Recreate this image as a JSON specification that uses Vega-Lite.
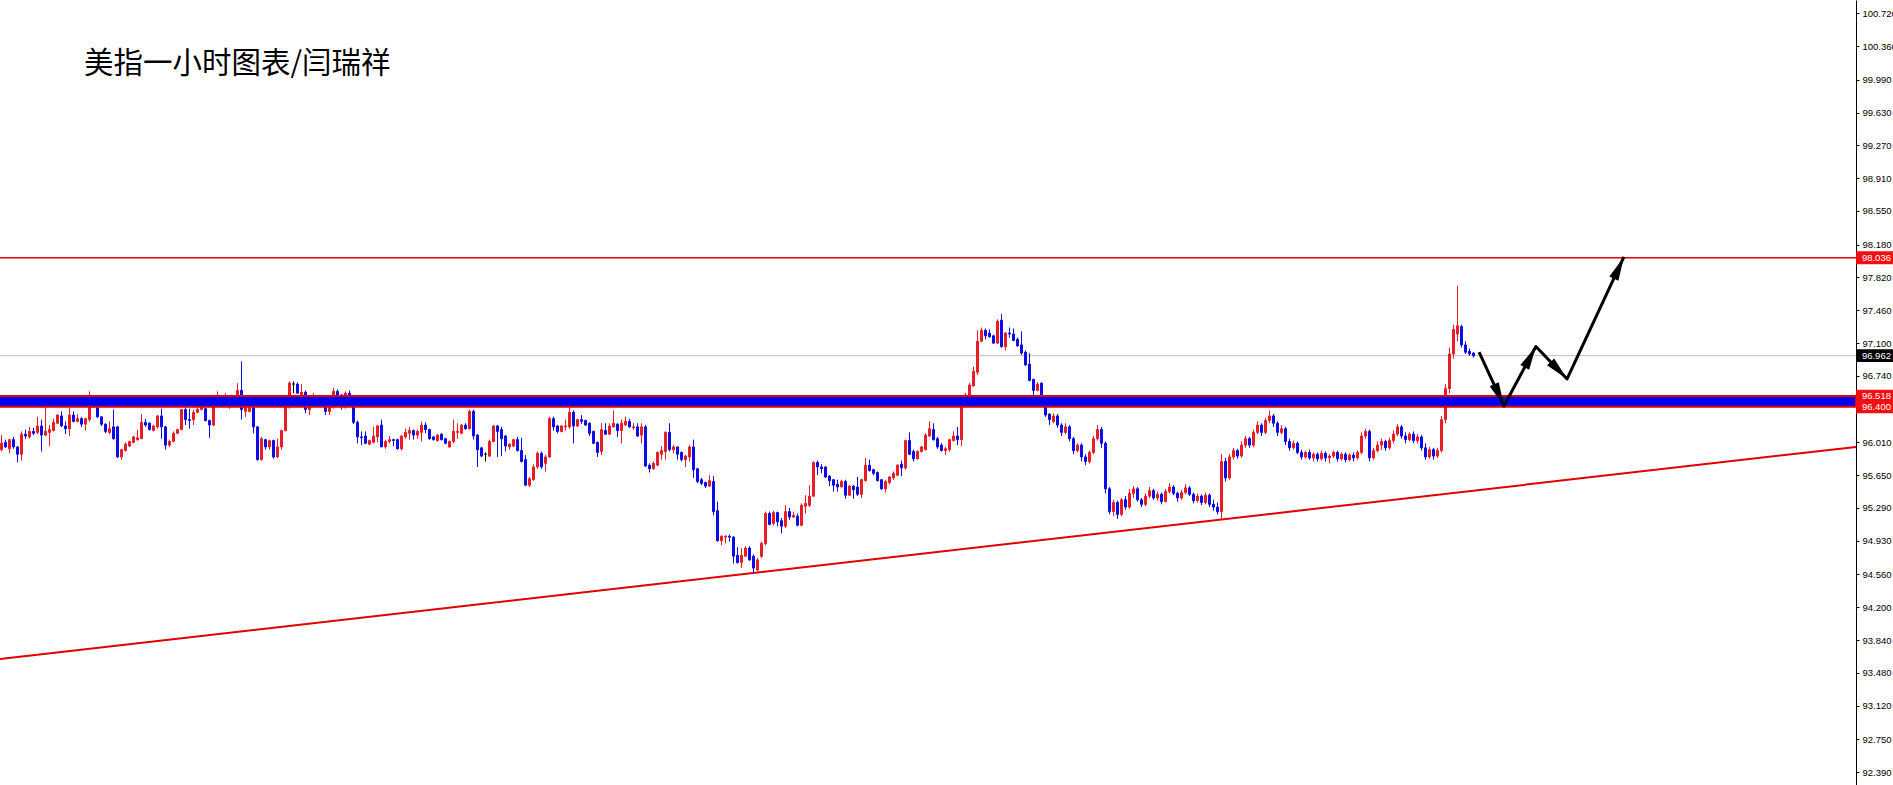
{
"$schema": "https://vega.github.io/schema/vega-lite/v6.json",
"width": 1856, "height": 785,
"autosize": {"type": "none"},
"padding": {"left": 0, "top": 0, "right": 37, "bottom": 0},
"background": "white",
"config": {"view": {"stroke": null}, "scale": {"continuousPadding": 0}, "axisY": {"labelOverlap": false, "labelFlush": false, "labelBound": false, "grid": false, "title": null, "domainColor": "#000000", "domainWidth": 1, "tickColor": "#000000", "tickSize": 3, "labelPadding": 3, "labelFont": "Liberation Sans", "labelFontSize": 9.5, "labelColor": "#000000"}},
"title": {"text": "美指一小时图表/闫瑞祥", "anchor": "start", "frame": "group", "orient": "top", "offset": -102, "dx": 84, "baseline": "alphabetic", "font": "Noto Sans CJK SC", "fontSize": 29.5, "fontWeight": "normal", "color": "#000000"},
"datasets": {
"candles": [
{"i":0,"o":95.93,"h":96.09,"l":95.91,"c":96.00},
{"i":1,"o":96.01,"h":96.04,"l":95.95,"c":95.96},
{"i":2,"o":95.94,"h":96.05,"l":95.89,"c":96.04},
{"i":3,"o":96.04,"h":96.07,"l":95.94,"c":95.96},
{"i":4,"o":95.96,"h":95.97,"l":95.79,"c":95.88},
{"i":5,"o":95.88,"h":96.13,"l":95.81,"c":96.10},
{"i":6,"o":96.10,"h":96.15,"l":96.05,"c":96.08},
{"i":7,"o":96.07,"h":96.18,"l":96.05,"c":96.13},
{"i":8,"o":96.13,"h":96.17,"l":96.09,"c":96.11},
{"i":9,"o":96.12,"h":96.29,"l":96.10,"c":96.19},
{"i":10,"o":96.19,"h":96.26,"l":95.91,"c":96.09},
{"i":11,"o":96.09,"h":96.44,"l":96.08,"c":96.13},
{"i":12,"o":96.12,"h":96.20,"l":95.97,"c":96.15},
{"i":13,"o":96.14,"h":96.27,"l":96.13,"c":96.23},
{"i":14,"o":96.22,"h":96.32,"l":96.21,"c":96.31},
{"i":15,"o":96.30,"h":96.35,"l":96.18,"c":96.19},
{"i":16,"o":96.19,"h":96.24,"l":96.10,"c":96.16},
{"i":17,"o":96.16,"h":96.39,"l":96.08,"c":96.31},
{"i":18,"o":96.31,"h":96.35,"l":96.23,"c":96.24},
{"i":19,"o":96.24,"h":96.32,"l":96.23,"c":96.27},
{"i":20,"o":96.27,"h":96.29,"l":96.18,"c":96.21},
{"i":21,"o":96.21,"h":96.28,"l":96.14,"c":96.27},
{"i":22,"o":96.26,"h":96.57,"l":96.24,"c":96.51},
{"i":23,"o":96.51,"h":96.53,"l":96.39,"c":96.40},
{"i":24,"o":96.39,"h":96.40,"l":96.28,"c":96.29},
{"i":25,"o":96.29,"h":96.30,"l":96.19,"c":96.21},
{"i":26,"o":96.21,"h":96.22,"l":96.11,"c":96.13},
{"i":27,"o":96.12,"h":96.24,"l":96.10,"c":96.16},
{"i":28,"o":96.18,"h":96.37,"l":96.04,"c":96.05},
{"i":29,"o":96.18,"h":96.19,"l":95.84,"c":95.85},
{"i":30,"o":95.85,"h":95.94,"l":95.82,"c":95.93},
{"i":31,"o":95.92,"h":96.01,"l":95.91,"c":95.99},
{"i":32,"o":95.97,"h":96.03,"l":95.96,"c":96.02},
{"i":33,"o":96.01,"h":96.08,"l":96.00,"c":96.07},
{"i":34,"o":96.04,"h":96.15,"l":96.03,"c":96.06},
{"i":35,"o":96.05,"h":96.32,"l":96.05,"c":96.23},
{"i":36,"o":96.23,"h":96.27,"l":96.18,"c":96.20},
{"i":37,"o":96.22,"h":96.23,"l":96.14,"c":96.15},
{"i":38,"o":96.14,"h":96.20,"l":96.13,"c":96.19},
{"i":39,"o":96.18,"h":96.31,"l":96.16,"c":96.30},
{"i":40,"o":96.30,"h":96.38,"l":96.05,"c":96.18},
{"i":41,"o":96.18,"h":96.19,"l":95.93,"c":95.98},
{"i":42,"o":95.98,"h":96.04,"l":95.96,"c":96.02},
{"i":43,"o":96.02,"h":96.13,"l":96.01,"c":96.11},
{"i":44,"o":96.11,"h":96.16,"l":96.10,"c":96.15},
{"i":45,"o":96.15,"h":96.37,"l":96.15,"c":96.37},
{"i":46,"o":96.37,"h":96.40,"l":96.20,"c":96.26},
{"i":47,"o":96.26,"h":96.38,"l":96.16,"c":96.25},
{"i":48,"o":96.26,"h":96.37,"l":96.20,"c":96.34},
{"i":49,"o":96.34,"h":96.40,"l":96.33,"c":96.37},
{"i":50,"o":96.37,"h":96.44,"l":96.36,"c":96.40},
{"i":51,"o":96.38,"h":96.39,"l":96.24,"c":96.25},
{"i":52,"o":96.25,"h":96.26,"l":96.06,"c":96.20},
{"i":53,"o":96.20,"h":96.47,"l":96.19,"c":96.45},
{"i":54,"o":96.45,"h":96.57,"l":96.44,"c":96.51},
{"i":55,"o":96.52,"h":96.53,"l":96.45,"c":96.48},
{"i":56,"o":96.48,"h":96.55,"l":96.44,"c":96.50},
{"i":57,"o":96.50,"h":96.51,"l":96.38,"c":96.42},
{"i":58,"o":96.42,"h":96.50,"l":96.40,"c":96.46},
{"i":59,"o":96.44,"h":96.66,"l":96.42,"c":96.58},
{"i":60,"o":96.58,"h":96.90,"l":96.26,"c":96.37},
{"i":61,"o":96.35,"h":96.42,"l":96.29,"c":96.40},
{"i":62,"o":96.35,"h":96.40,"l":96.34,"c":96.39},
{"i":63,"o":96.39,"h":96.40,"l":96.11,"c":96.18},
{"i":64,"o":96.18,"h":96.19,"l":95.81,"c":95.82},
{"i":65,"o":95.82,"h":96.07,"l":95.81,"c":96.05},
{"i":66,"o":96.04,"h":96.05,"l":95.93,"c":95.96},
{"i":67,"o":95.96,"h":96.04,"l":95.93,"c":96.03},
{"i":68,"o":96.03,"h":96.04,"l":95.83,"c":95.85},
{"i":69,"o":95.85,"h":96.05,"l":95.84,"c":95.96},
{"i":70,"o":95.96,"h":96.15,"l":95.93,"c":96.14},
{"i":71,"o":96.14,"h":96.42,"l":96.13,"c":96.40},
{"i":72,"o":96.40,"h":96.68,"l":96.38,"c":96.66},
{"i":73,"o":96.65,"h":96.68,"l":96.55,"c":96.65},
{"i":74,"o":96.65,"h":96.67,"l":96.55,"c":96.55},
{"i":75,"o":96.51,"h":96.65,"l":96.48,"c":96.56},
{"i":76,"o":96.56,"h":96.58,"l":96.33,"c":96.37},
{"i":77,"o":96.37,"h":96.48,"l":96.31,"c":96.46},
{"i":78,"o":96.46,"h":96.55,"l":96.42,"c":96.49},
{"i":79,"o":96.49,"h":96.50,"l":96.44,"c":96.46},
{"i":80,"o":96.44,"h":96.51,"l":96.42,"c":96.49},
{"i":81,"o":96.40,"h":96.44,"l":96.31,"c":96.35},
{"i":82,"o":96.35,"h":96.46,"l":96.31,"c":96.42},
{"i":83,"o":96.42,"h":96.61,"l":96.38,"c":96.57},
{"i":84,"o":96.57,"h":96.59,"l":96.51,"c":96.53},
{"i":85,"o":96.53,"h":96.54,"l":96.37,"c":96.44},
{"i":86,"o":96.40,"h":96.57,"l":96.38,"c":96.55},
{"i":87,"o":96.55,"h":96.58,"l":96.50,"c":96.52},
{"i":88,"o":96.47,"h":96.50,"l":96.21,"c":96.23},
{"i":89,"o":96.23,"h":96.25,"l":96.00,"c":96.07},
{"i":90,"o":96.07,"h":96.13,"l":95.98,"c":96.06},
{"i":91,"o":96.08,"h":96.13,"l":95.99,"c":96.00},
{"i":92,"o":95.99,"h":96.04,"l":95.98,"c":96.03},
{"i":93,"o":96.01,"h":96.18,"l":96.00,"c":96.08},
{"i":94,"o":96.07,"h":96.20,"l":96.01,"c":96.19},
{"i":95,"o":96.20,"h":96.26,"l":95.96,"c":95.96},
{"i":96,"o":95.96,"h":96.04,"l":95.94,"c":96.02},
{"i":97,"o":96.02,"h":96.08,"l":96.00,"c":96.04},
{"i":98,"o":96.04,"h":96.05,"l":95.97,"c":96.03},
{"i":99,"o":96.04,"h":96.05,"l":95.93,"c":95.94},
{"i":100,"o":95.94,"h":96.09,"l":95.92,"c":96.08},
{"i":101,"o":96.07,"h":96.16,"l":96.05,"c":96.12},
{"i":102,"o":96.11,"h":96.18,"l":96.04,"c":96.14},
{"i":103,"o":96.14,"h":96.15,"l":96.04,"c":96.09},
{"i":104,"o":96.09,"h":96.15,"l":96.05,"c":96.13},
{"i":105,"o":96.12,"h":96.24,"l":96.02,"c":96.20},
{"i":106,"o":96.20,"h":96.23,"l":96.11,"c":96.15},
{"i":107,"o":96.15,"h":96.16,"l":96.04,"c":96.05},
{"i":108,"o":96.07,"h":96.08,"l":96.03,"c":96.04},
{"i":109,"o":96.03,"h":96.10,"l":96.02,"c":96.09},
{"i":110,"o":96.10,"h":96.11,"l":96.03,"c":96.04},
{"i":111,"o":96.05,"h":96.06,"l":95.99,"c":96.00},
{"i":112,"o":95.96,"h":96.03,"l":95.95,"c":96.02},
{"i":113,"o":96.02,"h":96.26,"l":96.00,"c":96.13},
{"i":114,"o":96.12,"h":96.22,"l":96.05,"c":96.13},
{"i":115,"o":96.11,"h":96.21,"l":96.10,"c":96.20},
{"i":116,"o":96.20,"h":96.22,"l":96.15,"c":96.16},
{"i":117,"o":96.16,"h":96.37,"l":96.15,"c":96.35},
{"i":118,"o":96.35,"h":96.37,"l":96.04,"c":96.08},
{"i":119,"o":96.09,"h":96.10,"l":95.74,"c":95.93},
{"i":120,"o":95.95,"h":95.96,"l":95.85,"c":95.86},
{"i":121,"o":95.88,"h":95.90,"l":95.80,"c":95.88},
{"i":122,"o":95.86,"h":96.04,"l":95.85,"c":96.02},
{"i":123,"o":96.02,"h":96.20,"l":96.01,"c":96.19},
{"i":124,"o":96.19,"h":96.20,"l":95.85,"c":96.13},
{"i":125,"o":96.15,"h":96.18,"l":95.86,"c":96.05},
{"i":126,"o":96.08,"h":96.09,"l":95.91,"c":95.97},
{"i":127,"o":95.96,"h":96.00,"l":95.93,"c":95.99},
{"i":128,"o":95.97,"h":96.05,"l":95.96,"c":96.04},
{"i":129,"o":96.04,"h":96.07,"l":95.91,"c":95.92},
{"i":130,"o":95.92,"h":96.06,"l":95.79,"c":95.80},
{"i":131,"o":95.82,"h":95.87,"l":95.53,"c":95.54},
{"i":132,"o":95.54,"h":95.63,"l":95.52,"c":95.61},
{"i":133,"o":95.60,"h":95.77,"l":95.59,"c":95.74},
{"i":134,"o":95.74,"h":95.91,"l":95.72,"c":95.89},
{"i":135,"o":95.89,"h":95.91,"l":95.72,"c":95.74},
{"i":136,"o":95.78,"h":95.87,"l":95.69,"c":95.85},
{"i":137,"o":95.85,"h":96.29,"l":95.84,"c":96.27},
{"i":138,"o":96.27,"h":96.29,"l":96.14,"c":96.18},
{"i":139,"o":96.19,"h":96.20,"l":96.11,"c":96.13},
{"i":140,"o":96.13,"h":96.20,"l":96.12,"c":96.19},
{"i":141,"o":96.18,"h":96.26,"l":96.14,"c":96.19},
{"i":142,"o":96.18,"h":96.46,"l":96.16,"c":96.34},
{"i":143,"o":96.34,"h":96.36,"l":96.00,"c":96.19},
{"i":144,"o":96.19,"h":96.27,"l":96.18,"c":96.26},
{"i":145,"o":96.26,"h":96.31,"l":96.21,"c":96.24},
{"i":146,"o":96.25,"h":96.26,"l":96.19,"c":96.20},
{"i":147,"o":96.22,"h":96.23,"l":96.08,"c":96.11},
{"i":148,"o":96.13,"h":96.14,"l":95.99,"c":96.00},
{"i":149,"o":96.01,"h":96.02,"l":95.85,"c":95.90},
{"i":150,"o":95.91,"h":96.22,"l":95.87,"c":96.15},
{"i":151,"o":96.14,"h":96.22,"l":96.09,"c":96.10},
{"i":152,"o":96.10,"h":96.22,"l":96.09,"c":96.19},
{"i":153,"o":96.18,"h":96.36,"l":96.17,"c":96.22},
{"i":154,"o":96.21,"h":96.22,"l":96.07,"c":96.14},
{"i":155,"o":96.14,"h":96.26,"l":96.00,"c":96.22},
{"i":156,"o":96.20,"h":96.29,"l":96.19,"c":96.24},
{"i":157,"o":96.24,"h":96.27,"l":96.17,"c":96.18},
{"i":158,"o":96.17,"h":96.22,"l":96.15,"c":96.18},
{"i":159,"o":96.18,"h":96.22,"l":96.07,"c":96.08},
{"i":160,"o":96.09,"h":96.22,"l":96.00,"c":96.18},
{"i":161,"o":96.18,"h":96.20,"l":95.74,"c":95.75},
{"i":162,"o":95.76,"h":95.78,"l":95.68,"c":95.72},
{"i":163,"o":95.72,"h":95.80,"l":95.71,"c":95.78},
{"i":164,"o":95.76,"h":95.91,"l":95.75,"c":95.90},
{"i":165,"o":95.88,"h":95.97,"l":95.82,"c":95.92},
{"i":166,"o":95.91,"h":96.13,"l":95.82,"c":96.12},
{"i":167,"o":96.12,"h":96.22,"l":95.91,"c":95.93},
{"i":168,"o":95.93,"h":95.98,"l":95.89,"c":95.96},
{"i":169,"o":95.96,"h":95.96,"l":95.82,"c":95.88},
{"i":170,"o":95.90,"h":95.91,"l":95.80,"c":95.82},
{"i":171,"o":95.82,"h":95.87,"l":95.74,"c":95.86},
{"i":172,"o":95.85,"h":95.98,"l":95.80,"c":95.96},
{"i":173,"o":95.96,"h":96.04,"l":95.62,"c":95.71},
{"i":174,"o":95.72,"h":95.73,"l":95.56,"c":95.58},
{"i":175,"o":95.60,"h":95.62,"l":95.54,"c":95.56},
{"i":176,"o":95.57,"h":95.58,"l":95.51,"c":95.53},
{"i":177,"o":95.53,"h":95.65,"l":95.52,"c":95.59},
{"i":178,"o":95.58,"h":95.64,"l":95.21,"c":95.25},
{"i":179,"o":95.26,"h":95.36,"l":94.92,"c":94.93},
{"i":180,"o":94.93,"h":94.99,"l":94.88,"c":94.98},
{"i":181,"o":94.97,"h":94.99,"l":94.90,"c":94.98},
{"i":182,"o":94.98,"h":95.00,"l":94.92,"c":94.97},
{"i":183,"o":94.97,"h":94.98,"l":94.68,"c":94.76},
{"i":184,"o":94.77,"h":94.86,"l":94.68,"c":94.69},
{"i":185,"o":94.69,"h":94.85,"l":94.63,"c":94.77},
{"i":186,"o":94.76,"h":94.87,"l":94.76,"c":94.85},
{"i":187,"o":94.85,"h":94.87,"l":94.71,"c":94.72},
{"i":188,"o":94.76,"h":94.78,"l":94.57,"c":94.63},
{"i":189,"o":94.61,"h":94.74,"l":94.59,"c":94.72},
{"i":190,"o":94.76,"h":94.92,"l":94.74,"c":94.90},
{"i":191,"o":94.90,"h":95.25,"l":94.88,"c":95.23},
{"i":192,"o":95.23,"h":95.25,"l":95.10,"c":95.11},
{"i":193,"o":95.12,"h":95.26,"l":95.10,"c":95.24},
{"i":194,"o":95.24,"h":95.25,"l":95.09,"c":95.14},
{"i":195,"o":95.15,"h":95.18,"l":95.01,"c":95.09},
{"i":196,"o":95.09,"h":95.32,"l":95.07,"c":95.25},
{"i":197,"o":95.25,"h":95.29,"l":95.16,"c":95.19},
{"i":198,"o":95.19,"h":95.25,"l":95.18,"c":95.21},
{"i":199,"o":95.20,"h":95.23,"l":95.09,"c":95.10},
{"i":200,"o":95.10,"h":95.34,"l":95.09,"c":95.32},
{"i":201,"o":95.31,"h":95.43,"l":95.23,"c":95.34},
{"i":202,"o":95.32,"h":95.54,"l":95.30,"c":95.42},
{"i":203,"o":95.42,"h":95.80,"l":95.41,"c":95.79},
{"i":204,"o":95.79,"h":95.81,"l":95.65,"c":95.74},
{"i":205,"o":95.74,"h":95.77,"l":95.67,"c":95.72},
{"i":206,"o":95.74,"h":95.75,"l":95.62,"c":95.63},
{"i":207,"o":95.64,"h":95.65,"l":95.53,"c":95.59},
{"i":208,"o":95.60,"h":95.61,"l":95.47,"c":95.54},
{"i":209,"o":95.55,"h":95.60,"l":95.47,"c":95.52},
{"i":210,"o":95.52,"h":95.60,"l":95.52,"c":95.58},
{"i":211,"o":95.58,"h":95.60,"l":95.39,"c":95.43},
{"i":212,"o":95.43,"h":95.54,"l":95.42,"c":95.53},
{"i":213,"o":95.53,"h":95.54,"l":95.39,"c":95.49},
{"i":214,"o":95.52,"h":95.63,"l":95.42,"c":95.44},
{"i":215,"o":95.44,"h":95.61,"l":95.40,"c":95.60},
{"i":216,"o":95.59,"h":95.84,"l":95.58,"c":95.76},
{"i":217,"o":95.76,"h":95.82,"l":95.69,"c":95.70},
{"i":218,"o":95.71,"h":95.72,"l":95.65,"c":95.67},
{"i":219,"o":95.68,"h":95.69,"l":95.58,"c":95.59},
{"i":220,"o":95.60,"h":95.61,"l":95.49,"c":95.50},
{"i":221,"o":95.50,"h":95.60,"l":95.46,"c":95.58},
{"i":222,"o":95.57,"h":95.64,"l":95.55,"c":95.63},
{"i":223,"o":95.62,"h":95.69,"l":95.60,"c":95.67},
{"i":224,"o":95.65,"h":95.77,"l":95.64,"c":95.76},
{"i":225,"o":95.77,"h":95.81,"l":95.64,"c":95.73},
{"i":226,"o":95.73,"h":96.04,"l":95.71,"c":96.03},
{"i":227,"o":96.03,"h":96.12,"l":95.87,"c":95.88},
{"i":228,"o":95.91,"h":95.93,"l":95.80,"c":95.83},
{"i":229,"o":95.83,"h":95.92,"l":95.82,"c":95.91},
{"i":230,"o":95.91,"h":95.97,"l":95.90,"c":95.96},
{"i":231,"o":95.93,"h":96.11,"l":95.92,"c":96.09},
{"i":232,"o":96.08,"h":96.24,"l":96.07,"c":96.16},
{"i":233,"o":96.15,"h":96.22,"l":96.03,"c":96.04},
{"i":234,"o":96.05,"h":96.07,"l":95.94,"c":95.96},
{"i":235,"o":95.98,"h":96.00,"l":95.91,"c":95.92},
{"i":236,"o":95.92,"h":95.96,"l":95.87,"c":95.94},
{"i":237,"o":95.93,"h":96.05,"l":95.91,"c":96.04},
{"i":238,"o":96.03,"h":96.13,"l":96.02,"c":96.08},
{"i":239,"o":96.08,"h":96.18,"l":95.98,"c":96.04},
{"i":240,"o":96.04,"h":96.51,"l":95.97,"c":96.46},
{"i":241,"o":96.44,"h":96.55,"l":96.43,"c":96.53},
{"i":242,"o":96.52,"h":96.66,"l":96.51,"c":96.64},
{"i":243,"o":96.63,"h":96.84,"l":96.62,"c":96.79},
{"i":244,"o":96.78,"h":97.24,"l":96.75,"c":97.12},
{"i":245,"o":97.12,"h":97.27,"l":97.11,"c":97.24},
{"i":246,"o":97.24,"h":97.26,"l":97.14,"c":97.18},
{"i":247,"o":97.21,"h":97.25,"l":97.16,"c":97.17},
{"i":248,"o":97.18,"h":97.19,"l":97.09,"c":97.10},
{"i":249,"o":97.10,"h":97.36,"l":97.09,"c":97.34},
{"i":250,"o":97.35,"h":97.42,"l":97.05,"c":97.06},
{"i":251,"o":97.06,"h":97.22,"l":97.02,"c":97.21},
{"i":252,"o":97.21,"h":97.27,"l":97.16,"c":97.20},
{"i":253,"o":97.20,"h":97.26,"l":97.12,"c":97.13},
{"i":254,"o":97.14,"h":97.16,"l":97.06,"c":97.07},
{"i":255,"o":97.08,"h":97.23,"l":96.97,"c":96.99},
{"i":256,"o":97.00,"h":97.02,"l":96.85,"c":96.86},
{"i":257,"o":96.87,"h":96.99,"l":96.68,"c":96.69},
{"i":258,"o":96.70,"h":96.71,"l":96.53,"c":96.58},
{"i":259,"o":96.58,"h":96.67,"l":96.57,"c":96.65},
{"i":260,"o":96.66,"h":96.67,"l":96.51,"c":96.53},
{"i":261,"o":96.50,"h":96.53,"l":96.29,"c":96.31},
{"i":262,"o":96.32,"h":96.33,"l":96.20,"c":96.26},
{"i":263,"o":96.24,"h":96.33,"l":96.22,"c":96.30},
{"i":264,"o":96.30,"h":96.32,"l":96.17,"c":96.20},
{"i":265,"o":96.20,"h":96.22,"l":96.08,"c":96.12},
{"i":266,"o":96.12,"h":96.22,"l":96.10,"c":96.18},
{"i":267,"o":96.18,"h":96.20,"l":96.02,"c":96.05},
{"i":268,"o":96.05,"h":96.07,"l":95.88,"c":95.92},
{"i":269,"o":95.92,"h":96.00,"l":95.90,"c":95.98},
{"i":270,"o":95.98,"h":96.00,"l":95.80,"c":95.85},
{"i":271,"o":95.85,"h":95.88,"l":95.76,"c":95.80},
{"i":272,"o":95.80,"h":95.92,"l":95.78,"c":95.90},
{"i":273,"o":95.90,"h":96.08,"l":95.88,"c":96.05},
{"i":274,"o":96.05,"h":96.20,"l":96.03,"c":96.15},
{"i":275,"o":96.15,"h":96.18,"l":95.95,"c":96.00},
{"i":276,"o":96.00,"h":96.02,"l":95.45,"c":95.50},
{"i":277,"o":95.50,"h":95.52,"l":95.22,"c":95.25},
{"i":278,"o":95.25,"h":95.38,"l":95.20,"c":95.35},
{"i":279,"o":95.35,"h":95.37,"l":95.17,"c":95.22},
{"i":280,"o":95.22,"h":95.40,"l":95.20,"c":95.38},
{"i":281,"o":95.38,"h":95.42,"l":95.27,"c":95.30},
{"i":282,"o":95.30,"h":95.50,"l":95.28,"c":95.45},
{"i":283,"o":95.45,"h":95.53,"l":95.40,"c":95.50},
{"i":284,"o":95.50,"h":95.52,"l":95.36,"c":95.38},
{"i":285,"o":95.38,"h":95.40,"l":95.30,"c":95.33},
{"i":286,"o":95.33,"h":95.45,"l":95.31,"c":95.42},
{"i":287,"o":95.42,"h":95.52,"l":95.40,"c":95.48},
{"i":288,"o":95.48,"h":95.50,"l":95.38,"c":95.40},
{"i":289,"o":95.40,"h":95.47,"l":95.37,"c":95.44},
{"i":290,"o":95.44,"h":95.46,"l":95.33,"c":95.36},
{"i":291,"o":95.36,"h":95.50,"l":95.35,"c":95.47},
{"i":292,"o":95.47,"h":95.56,"l":95.45,"c":95.52},
{"i":293,"o":95.52,"h":95.54,"l":95.43,"c":95.45},
{"i":294,"o":95.45,"h":95.47,"l":95.36,"c":95.40},
{"i":295,"o":95.40,"h":95.49,"l":95.38,"c":95.46},
{"i":296,"o":95.46,"h":95.55,"l":95.44,"c":95.51},
{"i":297,"o":95.51,"h":95.53,"l":95.42,"c":95.44},
{"i":298,"o":95.44,"h":95.46,"l":95.34,"c":95.37},
{"i":299,"o":95.37,"h":95.45,"l":95.35,"c":95.42},
{"i":300,"o":95.42,"h":95.44,"l":95.32,"c":95.35},
{"i":301,"o":95.35,"h":95.46,"l":95.33,"c":95.43},
{"i":302,"o":95.43,"h":95.45,"l":95.30,"c":95.33},
{"i":303,"o":95.33,"h":95.38,"l":95.26,"c":95.30},
{"i":304,"o":95.30,"h":95.35,"l":95.22,"c":95.25},
{"i":305,"o":95.25,"h":95.88,"l":95.17,"c":95.80},
{"i":306,"o":95.80,"h":95.84,"l":95.58,"c":95.62},
{"i":307,"o":95.62,"h":95.88,"l":95.60,"c":95.85},
{"i":308,"o":95.85,"h":95.95,"l":95.82,"c":95.92},
{"i":309,"o":95.92,"h":95.94,"l":95.83,"c":95.86},
{"i":310,"o":95.86,"h":96.02,"l":95.84,"c":95.98},
{"i":311,"o":95.98,"h":96.08,"l":95.95,"c":96.05},
{"i":312,"o":96.05,"h":96.07,"l":95.95,"c":95.98},
{"i":313,"o":95.98,"h":96.15,"l":95.96,"c":96.12},
{"i":314,"o":96.12,"h":96.24,"l":96.10,"c":96.20},
{"i":315,"o":96.20,"h":96.22,"l":96.08,"c":96.12},
{"i":316,"o":96.12,"h":96.28,"l":96.10,"c":96.25},
{"i":317,"o":96.25,"h":96.36,"l":96.22,"c":96.30},
{"i":318,"o":96.30,"h":96.32,"l":96.18,"c":96.22},
{"i":319,"o":96.22,"h":96.24,"l":96.08,"c":96.12},
{"i":320,"o":96.12,"h":96.20,"l":96.10,"c":96.16},
{"i":321,"o":96.16,"h":96.18,"l":95.98,"c":96.02},
{"i":322,"o":96.02,"h":96.05,"l":95.92,"c":95.95},
{"i":323,"o":95.95,"h":96.03,"l":95.93,"c":96.00},
{"i":324,"o":96.00,"h":96.02,"l":95.88,"c":95.90},
{"i":325,"o":95.90,"h":95.93,"l":95.82,"c":95.85},
{"i":326,"o":95.85,"h":95.92,"l":95.83,"c":95.90},
{"i":327,"o":95.90,"h":95.93,"l":95.82,"c":95.84},
{"i":328,"o":95.84,"h":95.90,"l":95.80,"c":95.88},
{"i":329,"o":95.88,"h":95.90,"l":95.80,"c":95.83},
{"i":330,"o":95.83,"h":95.92,"l":95.81,"c":95.89},
{"i":331,"o":95.89,"h":95.91,"l":95.80,"c":95.84},
{"i":332,"o":95.84,"h":95.88,"l":95.78,"c":95.86},
{"i":333,"o":95.86,"h":95.92,"l":95.84,"c":95.90},
{"i":334,"o":95.90,"h":95.92,"l":95.80,"c":95.83},
{"i":335,"o":95.83,"h":95.90,"l":95.81,"c":95.88},
{"i":336,"o":95.88,"h":95.90,"l":95.79,"c":95.82},
{"i":337,"o":95.82,"h":95.89,"l":95.80,"c":95.87},
{"i":338,"o":95.87,"h":95.90,"l":95.80,"c":95.84},
{"i":339,"o":95.84,"h":95.92,"l":95.82,"c":95.90},
{"i":340,"o":95.90,"h":96.12,"l":95.88,"c":96.08},
{"i":341,"o":96.08,"h":96.16,"l":96.05,"c":96.13},
{"i":342,"o":96.13,"h":96.15,"l":95.80,"c":95.84},
{"i":343,"o":95.84,"h":95.95,"l":95.82,"c":95.92},
{"i":344,"o":95.92,"h":96.02,"l":95.90,"c":95.98},
{"i":345,"o":95.98,"h":96.05,"l":95.93,"c":96.02},
{"i":346,"o":96.02,"h":96.04,"l":95.92,"c":95.95},
{"i":347,"o":95.95,"h":96.06,"l":95.93,"c":96.03},
{"i":348,"o":96.03,"h":96.14,"l":96.00,"c":96.10},
{"i":349,"o":96.10,"h":96.21,"l":96.08,"c":96.18},
{"i":350,"o":96.18,"h":96.20,"l":96.05,"c":96.08},
{"i":351,"o":96.08,"h":96.12,"l":96.00,"c":96.04},
{"i":352,"o":96.04,"h":96.12,"l":96.02,"c":96.10},
{"i":353,"o":96.10,"h":96.13,"l":96.00,"c":96.03},
{"i":354,"o":96.03,"h":96.10,"l":96.00,"c":96.07},
{"i":355,"o":96.07,"h":96.09,"l":95.92,"c":95.95},
{"i":356,"o":95.95,"h":96.00,"l":95.82,"c":95.85},
{"i":357,"o":95.85,"h":95.96,"l":95.83,"c":95.93},
{"i":358,"o":95.93,"h":95.95,"l":95.82,"c":95.86},
{"i":359,"o":95.86,"h":95.95,"l":95.84,"c":95.92},
{"i":360,"o":95.92,"h":96.30,"l":95.90,"c":96.26},
{"i":361,"o":96.26,"h":96.65,"l":96.22,"c":96.60},
{"i":362,"o":96.60,"h":97.05,"l":96.55,"c":96.98},
{"i":363,"o":96.98,"h":97.30,"l":96.93,"c":97.25},
{"i":364,"o":97.20,"h":97.73,"l":97.12,"c":97.29},
{"i":365,"o":97.28,"h":97.30,"l":97.05,"c":97.08},
{"i":366,"o":97.08,"h":97.12,"l":96.98,"c":97.00},
{"i":367,"o":97.01,"h":97.04,"l":96.96,"c":96.98},
{"i":368,"o":96.99,"h":97.00,"l":96.94,"c":96.96}
],
"trend": [{"i": -0.375, "p": 93.632}, {"i": 463.625, "p": 95.960}],
"arrow": [{"i": 369.4, "p": 97.00}, {"i": 375.6, "p": 96.41}, {"i": 383.6, "p": 97.063}, {"i": 391.4, "p": 96.706}, {"i": 405.6, "p": 98.045}],
"heads": [{"k": 1, "i": 375.6, "p": 96.41}, {"k": 2, "i": 383.6, "p": 97.063}, {"k": 3, "i": 391.4, "p": 96.706}, {"k": 4, "i": 405.6, "p": 98.045}],
"tags": [{"p": 98.036}, {"p": 96.962}, {"p": 96.518}, {"p": 96.400}]
},
"layer": [
{"data": {"name": "trend"}, "mark": {"type": "line", "color": "#e00000", "strokeWidth": 2},
 "encoding": {"x": {"field": "i", "type": "quantitative", "scale": {"domain": [-0.375, 463.625], "nice": false, "zero": false, "padding": 0}, "axis": null},
  "y": {"field": "p", "type": "quantitative", "scale": {"domain": [92.249, 100.866], "nice": false, "zero": false, "padding": 0},
   "axis": {"orient": "right", "title": null, "values": [100.72, 100.36, 99.99, 99.63, 99.27, 98.91, 98.55, 98.18, 97.82, 97.46, 97.1, 96.74, 96.01, 95.65, 95.29, 94.93, 94.56, 94.2, 93.84, 93.48, 93.12, 92.75, 92.39], "tickCount": 40, "format": ".3f", "labelOverlap": false}}}},
{"data": {"name": "tags"}, "transform": [{"filter": "datum.p == 96.962"}], "mark": {"type": "rule", "color": "#c0c0c0", "strokeWidth": 1}, "encoding": {"y": {"field": "p", "type": "quantitative"}}},
{"data": {"name": "tags"}, "transform": [{"filter": "datum.p == 98.036"}], "mark": {"type": "rule", "color": "#e00000", "strokeWidth": 1.5}, "encoding": {"y": {"field": "p", "type": "quantitative"}}},
{"data": {"name": "candles"}, "mark": {"type": "rule", "strokeWidth": 1},
 "encoding": {"x": {"field": "i", "type": "quantitative"}, "y": {"field": "l", "type": "quantitative"}, "y2": {"field": "h"},
  "stroke": {"condition": [{"test": "datum.c > datum.o", "value": "#ea1c24"}, {"test": "datum.c < datum.o", "value": "#0c0ce8"}], "value": "#000000"}}},
{"data": {"name": "candles"}, "mark": {"type": "bar", "size": 2, "strokeWidth": 1, "orient": "vertical"},
 "encoding": {"x": {"field": "i", "type": "quantitative"}, "y": {"field": "o", "type": "quantitative"}, "y2": {"field": "c"},
  "fill": {"condition": [{"test": "datum.c > datum.o", "value": "#ea1c24"}, {"test": "datum.c < datum.o", "value": "#0c0ce8"}], "value": "#000000"},
  "stroke": {"condition": [{"test": "datum.c > datum.o", "value": "#ea1c24"}, {"test": "datum.c < datum.o", "value": "#0c0ce8"}], "value": "#000000"}}},
{"data": {"values": [{"lo": 96.400, "hi": 96.518}]}, "mark": {"type": "rect", "fill": "#0000f5", "stroke": "#e00000", "strokeWidth": 2},
 "encoding": {"x": {"datum": -3, "type": "quantitative"}, "x2": {"datum": 463.625}, "y": {"field": "lo", "type": "quantitative"}, "y2": {"field": "hi"}}},
{"data": {"name": "arrow"}, "mark": {"type": "line", "color": "#000000", "strokeWidth": 3, "strokeJoin": "round"},
 "encoding": {"x": {"field": "i", "type": "quantitative"}, "y": {"field": "p", "type": "quantitative"}}},
{"data": {"name": "heads"}, "transform": [{"filter": "datum.k == 1"}], "mark": {"type": "point", "filled": true, "color": "#000000", "opacity": 1, "shape": "M0,0L0.4,1.9L-0.4,1.9Z", "size": 625, "angle": 156},
 "encoding": {"x": {"field": "i", "type": "quantitative"}, "y": {"field": "p", "type": "quantitative"}}},
{"data": {"name": "heads"}, "transform": [{"filter": "datum.k == 2"}], "mark": {"type": "point", "filled": true, "color": "#000000", "opacity": 1, "shape": "M0,0L0.4,1.9L-0.4,1.9Z", "size": 625, "angle": 28},
 "encoding": {"x": {"field": "i", "type": "quantitative"}, "y": {"field": "p", "type": "quantitative"}}},
{"data": {"name": "heads"}, "transform": [{"filter": "datum.k == 3"}], "mark": {"type": "point", "filled": true, "color": "#000000", "opacity": 1, "shape": "M0,0L0.4,1.9L-0.4,1.9Z", "size": 625, "angle": 136},
 "encoding": {"x": {"field": "i", "type": "quantitative"}, "y": {"field": "p", "type": "quantitative"}}},
{"data": {"name": "heads"}, "transform": [{"filter": "datum.k == 4"}], "mark": {"type": "point", "filled": true, "color": "#000000", "opacity": 1, "shape": "M0,0L0.4,1.9L-0.4,1.9Z", "size": 625, "angle": 25},
 "encoding": {"x": {"field": "i", "type": "quantitative"}, "y": {"field": "p", "type": "quantitative"}}},
{"data": {"name": "tags"}, "mark": {"type": "point", "filled": true, "opacity": 1, "shape": "M-1,-0.34L1,-0.34L1,0.34L-1,0.34Z", "size": 1444},
 "encoding": {"x": {"datum": 468.4, "type": "quantitative"}, "y": {"field": "p", "type": "quantitative"},
  "color": {"condition": {"test": "datum.p == 96.962", "value": "#000000"}, "value": "#f01010"}}},
{"data": {"name": "tags"}, "mark": {"type": "text", "align": "left", "baseline": "middle", "font": "Liberation Sans", "fontSize": 9.5, "color": "#ffffff"},
 "encoding": {"x": {"datum": 465.1, "type": "quantitative"}, "y": {"field": "p", "type": "quantitative"}, "text": {"field": "p", "type": "quantitative", "format": ".3f"}}}
]
}
